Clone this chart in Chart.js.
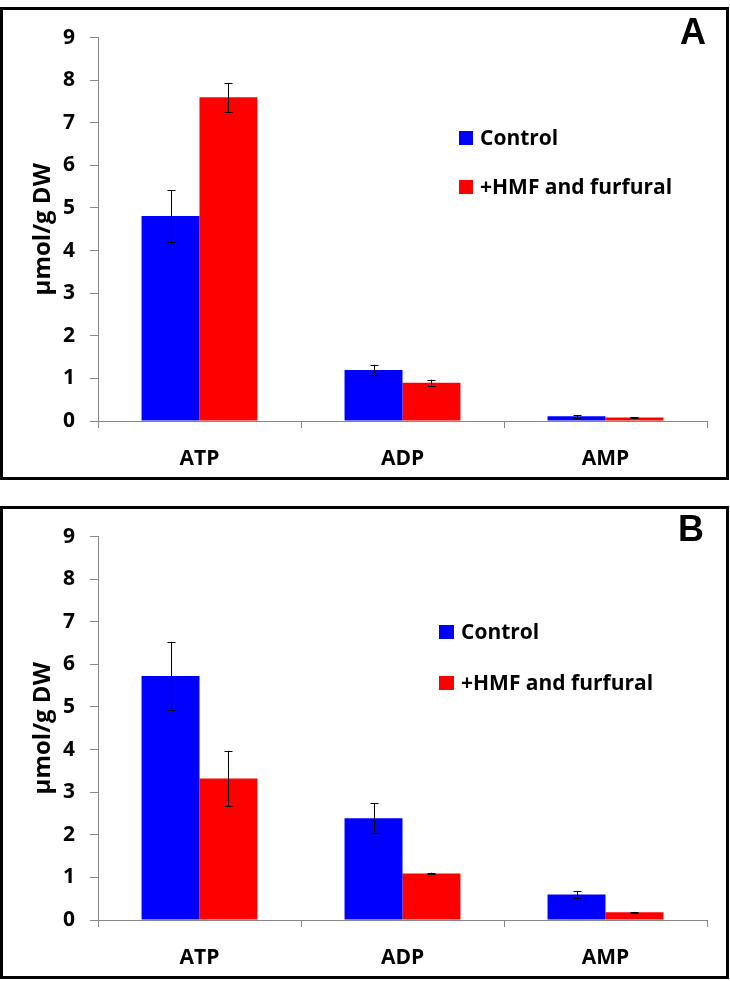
<!DOCTYPE html>
<html>
<head>
<meta charset="utf-8">
<script src="https://cdn.jsdelivr.net/npm/chart.js@4.4.1/dist/chart.umd.min.js"></script>
<style>
  html, body { margin: 0; padding: 0; background: #fff; }
  body { width: 730px; height: 981px; position: relative; overflow: hidden; }
  .panel { position: absolute; left: 0; width: 729px; height: 473px; box-sizing: border-box; border: 3px solid #000; background: #fff; }
  .panel canvas { position: absolute; left: 0; top: 0; }
  .letter { position: absolute; font-family: "Liberation Sans", Arial, sans-serif; font-weight: bold; font-size: 36px; line-height: 36px; color: #000; }
</style>
</head>
<body>
<div class="panel" id="panelA" style="top:7px;">
  <canvas id="chartA" width="723" height="467"></canvas>
  <div class="letter" style="left:677px; top:4px;">A</div>
</div>
<div class="panel" id="panelB" style="top:506px;">
  <canvas id="chartB" width="723" height="467"></canvas>
  <div class="letter" style="left:675px; top:2px;">B</div>
</div>
<script>
// ---- data ----
const categories = ["ATP", "ADP", "AMP"];
const seriesNames = ["Control", "+HMF and furfural"];
const yTicks = [0, 1, 2, 3, 4, 5, 6, 7, 8, 9];
const yTitle = "\u03bcmol/g DW";

const controlA = [4.81, 1.20, 0.11];
const controlAErr = [0.61, 0.12, 0.03];
const hmfA = [7.60, 0.90, 0.08];
const hmfAErr = [0.34, 0.07, 0.01];

const controlB = [5.73, 2.39, 0.60];
const controlBErr = [0.80, 0.35, 0.08];
const hmfB = [3.32, 1.09, 0.18];
const hmfBErr = [0.65, 0.02, 0.01];

const BLUE = "#0000FF";
const RED = "#FF0000";
const AXIS = "#868686";
const FONT = "'Open Sans', Lato, sans-serif";

// error bars plugin
const errorBars = {
  id: "errorBars",
  afterDatasetsDraw(chart) {
    const ctx = chart.ctx;
    const y = chart.scales.y;
    ctx.save();
    ctx.strokeStyle = "#000";
    ctx.lineWidth = 1;
    chart.data.datasets.forEach((ds, i) => {
      const meta = chart.getDatasetMeta(i);
      meta.data.forEach((bar, j) => {
        const v = ds.data[j], e = ds.err[j];
        const x = Math.round(bar.x) + 0.5;
        const yt = y.getPixelForValue(v + e);
        const yb = y.getPixelForValue(v - e);
        ctx.beginPath();
        ctx.moveTo(x, yt); ctx.lineTo(x, yb);
        ctx.moveTo(x - 4, Math.round(yt) + 0.5); ctx.lineTo(x + 4, Math.round(yt) + 0.5);
        ctx.moveTo(x - 4, Math.round(yb) + 0.5); ctx.lineTo(x + 4, Math.round(yb) + 0.5);
        ctx.stroke();
      });
    });
    ctx.restore();
  }
};

// custom legend plugin
const customLegend = {
  id: "customLegend",
  afterDraw(chart, args, opts) {
    const ctx = chart.ctx;
    ctx.save();
    ctx.font = "bold 21px " + FONT;
    ctx.textBaseline = "middle";
    ctx.textAlign = "left";
    chart.data.datasets.forEach((ds, i) => {
      const cy = opts.y + i * opts.gap;
      ctx.fillStyle = ds.backgroundColor;
      ctx.fillRect(opts.x, cy - 7, opts.box, 14);
      ctx.fillStyle = "#000";
      ctx.fillText(ds.label, opts.x + opts.box + 7, cy + 1);
    });
    ctx.restore();
  }
};

function makeChart(id, c, ce, h, he, legendPos) {
  return new Chart(document.getElementById(id), {
    type: "bar",
    data: {
      labels: categories,
      datasets: [
        { label: seriesNames[0], data: c, err: ce, backgroundColor: BLUE, borderWidth: 0 },
        { label: seriesNames[1], data: h, err: he, backgroundColor: RED, borderWidth: 0 }
      ]
    },
    options: {
      responsive: false,
      animation: false,
      devicePixelRatio: 1,
      layout: { padding: { top: 22, right: 19, left: 0, bottom: 0 } },
      datasets: { bar: { barPercentage: 1.0, categoryPercentage: 0.571 } },
      plugins: {
        legend: { display: false },
        tooltip: { enabled: false },
        customLegend: legendPos
      },
      scales: {
        x: {
          grid: { offset: true, drawOnChartArea: false, drawTicks: true, tickLength: 7, color: AXIS, lineWidth: 1 },
          border: { color: AXIS, width: 1 },
          ticks: { color: "#000", font: { family: FONT, size: 21, weight: "bold" }, padding: 18, maxRotation: 0 },
          afterFit(scale) { scale.height = 56; }
        },
        y: {
          min: 0, max: 9,
          afterBuildTicks(scale) { scale.ticks = yTicks.map(v => ({ value: v })); },
          grid: { drawOnChartArea: false, drawTicks: true, tickLength: 8, color: AXIS, lineWidth: 1 },
          border: { color: AXIS, width: 1 },
          ticks: { color: "#000", font: { family: FONT, size: 21, weight: "bold" }, padding: 15 },
          title: { display: true, text: yTitle, color: "#000", font: { family: FONT, size: 24, weight: "bold" }, padding: { top: 26, bottom: 0 } },
          afterFit(scale) { scale.width = 95; }
        }
      }
    },
    plugins: [errorBars, customLegend]
  });
}

makeChart("chartA", controlA, controlAErr, hmfA, hmfAErr, { x: 456, y: 128, gap: 49, box: 14 });
makeChart("chartB", controlB, controlBErr, hmfB, hmfBErr, { x: 436, y: 123, gap: 51, box: 15 });
</script>
</body>
</html>
